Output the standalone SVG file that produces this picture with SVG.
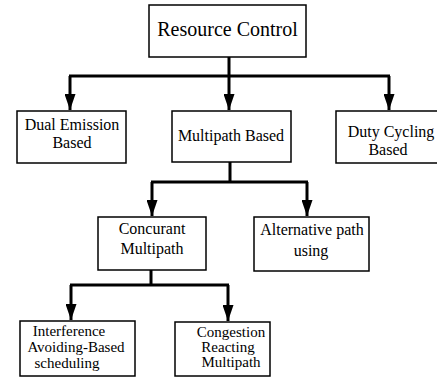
<svg xmlns="http://www.w3.org/2000/svg" width="437" height="381" viewBox="0 0 437 381">
<style>
.box{fill:#fff;stroke:#000;stroke-width:1.5}
.t{font-family:"Liberation Serif","Times New Roman",serif;font-size:16px;fill:#000;text-anchor:middle}
.big{font-size:20px}
.sm{font-size:15px}
.c{fill:none;stroke:#000;stroke-width:3}
.a{fill:none;stroke:#000;stroke-width:3;marker-end:url(#ah)}
</style>
<defs>
<marker id="ah" viewBox="0 0 11 16" refX="5.5" refY="16" markerWidth="11" markerHeight="16" markerUnits="userSpaceOnUse" orient="0">
<path d="M0,0 L11,0 L5.5,16 z" fill="#000"/>
</marker>
</defs>
<rect width="437" height="381" fill="#fff"/>
<g id="connectors">
<path class="c" d="M229,57 V76 M69,76 H390"/>
<path class="a" d="M70,76 V110"/>
<path class="a" d="M229,76 V110"/>
<path class="a" d="M389,76 V110"/>
<path class="c" d="M230,162 V182 M151,182 H308"/>
<path class="a" d="M152,182 V216"/>
<path class="a" d="M307,182 V216"/>
<path class="c" d="M151,270 V285 M70,285 H229"/>
<path class="a" d="M71,285 V320"/>
<path class="a" d="M228,285 V321"/>
</g>
<g id="resource-control">
<rect class="box" x="149" y="5" width="157" height="52"/>
<text class="t big" x="227.5" y="36">Resource Control</text>
</g>
<g id="dual-emission">
<rect class="box" x="17" y="111" width="109" height="52"/>
<text class="t" x="72" y="130">Dual Emission</text>
<text class="t" x="72" y="148">Based</text>
</g>
<g id="multipath-based">
<rect class="box" x="172" y="111" width="119" height="51"/>
<text class="t" x="231" y="141">Multipath Based</text>
</g>
<g id="duty-cycling">
<rect class="box" x="336" y="111" width="110" height="52"/>
<text class="t" x="391" y="137">Duty Cycling</text>
<text class="t" x="388" y="155">Based</text>
</g>
<g id="concurant-multipath">
<rect class="box" x="98" y="217" width="108" height="53"/>
<text class="t" x="152" y="234">Concurant</text>
<text class="t" x="152" y="254">Multipath</text>
</g>
<g id="alternative-path">
<rect class="box" x="254" y="217" width="115" height="54"/>
<text class="t" x="312" y="235">Alternative path</text>
<text class="t" x="311" y="256">using</text>
</g>
<g id="interference">
<rect class="box" x="20" y="321" width="115" height="55"/>
<text class="t sm" x="69" y="336">Interference</text>
<text class="t sm" x="76" y="352">Avoiding-Based</text>
<text class="t sm" x="67" y="368">scheduling</text>
</g>
<g id="congestion">
<rect class="box" x="175" y="322" width="95" height="54"/>
<text class="t sm" x="231" y="337">Congestion</text>
<text class="t sm" x="228" y="352">Reacting</text>
<text class="t sm" x="231" y="367">Multipath</text>
</g>
</svg>
